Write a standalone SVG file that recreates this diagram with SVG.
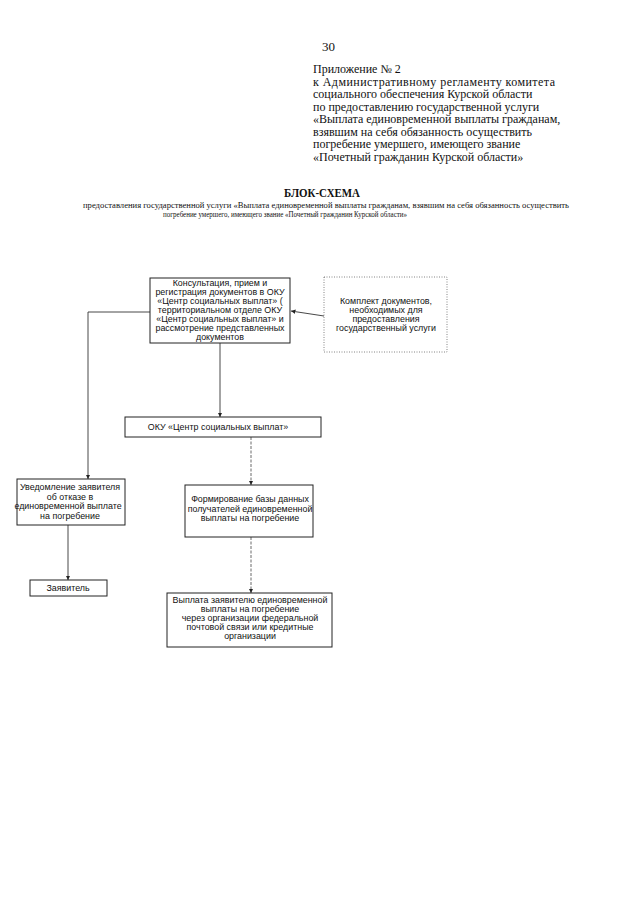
<svg xmlns="http://www.w3.org/2000/svg" width="640" height="905" viewBox="0 0 640 905">
<defs>
<style>
.serif{font-family:"Liberation Serif","Times New Roman",serif;fill:#111}
.hdr{font-size:12px}
.box{fill:#fff;stroke:#222;stroke-width:1}
.dot{fill:#fff;stroke:#666;stroke-width:0.8;stroke-dasharray:1 1.5}
.t{font-family:"Liberation Sans",Arial,sans-serif;font-size:8.9px;fill:#111;text-anchor:middle}
.ln{fill:none;stroke:#333;stroke-width:0.9}
.dl{fill:none;stroke:#444;stroke-width:0.8;stroke-dasharray:3 1.5}
</style>
<marker id="ah" viewBox="0 0 6 6" refX="6" refY="3" markerWidth="4.5" markerHeight="4.5" orient="auto" markerUnits="userSpaceOnUse">
<path d="M0,0 L6,3 L0,6 z" fill="#222"/>
</marker>
</defs>
<rect width="640" height="905" fill="#fff"/>

<g id="header" class="serif hdr">
<text x="322" y="51" font-size="13">30</text>
<text x="313" y="73">Приложение № 2</text>
<text x="313" y="85.5" textLength="242" lengthAdjust="spacing">к  Административному  регламенту  комитета</text>
<text x="313" y="98">социального обеспечения Курской области</text>
<text x="313" y="110.5">по предоставлению государственной услуги</text>
<text x="313" y="123">«Выплата единовременной выплаты гражданам,</text>
<text x="313" y="135.5">взявшим на себя обязанность осуществить</text>
<text x="313" y="148">погребение умершего, имеющего звание</text>
<text x="313" y="160.5">«Почетный гражданин Курской области»</text>
</g>

<g id="title" class="serif">
<text x="284" y="197" font-size="12.5" font-weight="bold" textLength="76" lengthAdjust="spacingAndGlyphs">БЛОК-СХЕМА</text>
<text x="83" y="208" font-size="8" textLength="486" lengthAdjust="spacingAndGlyphs">предоставления государственной услуги  «Выплата единовременной выплаты гражданам, взявшим на себя обязанность осуществить</text>
<text x="163" y="217" font-size="8" textLength="244" lengthAdjust="spacingAndGlyphs">погребение умершего, имеющего звание «Почетный гражданин Курской области»</text>
</g>

<g id="connectors">
<polyline class="ln" points="150,312 88,312 88,479" marker-end="url(#ah)"/>
<line class="ln" x1="220" y1="343" x2="220" y2="417" marker-end="url(#ah)"/>
<line class="ln" x1="324" y1="316" x2="291" y2="311" marker-end="url(#ah)"/>
<line class="dl" x1="251" y1="437" x2="251" y2="485" marker-end="url(#ah)"/>
<line class="dl" x1="251" y1="537" x2="251" y2="593" marker-end="url(#ah)"/>
<line class="ln" x1="68" y1="525" x2="68" y2="580" marker-end="url(#ah)"/>
</g>

<g id="n-consult">
<rect class="box" x="150" y="278" width="140" height="65"/>
<text class="t" x="220" y="285.5">Консультация, прием и</text>
<text class="t" x="220" y="294.5">регистрация документов в ОКУ</text>
<text class="t" x="220" y="303.5">«Центр социальных выплат» (</text>
<text class="t" x="220" y="312.5">территориальном отделе ОКУ</text>
<text class="t" x="220" y="321.5">«Центр социальных выплат» и</text>
<text class="t" x="220" y="330.5">рассмотрение представленных</text>
<text class="t" x="220" y="339.5">документов</text>
</g>

<g id="n-docs">
<rect class="dot" x="324" y="277" width="123" height="75"/>
<text class="t" x="386" y="304">Комплект документов,</text>
<text class="t" x="386" y="313">необходимых для</text>
<text class="t" x="386" y="322">предоставления</text>
<text class="t" x="386" y="331">государственный услуги</text>
</g>

<g id="n-oku">
<rect class="box" x="125" y="417" width="196" height="20"/>
<text class="t" x="218" y="430">ОКУ «Центр социальных выплат»</text>
</g>

<g id="n-form">
<rect class="box" x="185" y="485" width="128" height="52"/>
<text class="t" x="250" y="502">Формирование базы данных</text>
<text class="t" x="250" y="511.5">получателей единовременной</text>
<text class="t" x="250" y="521">выплаты на погребение</text>
</g>

<g id="n-pay">
<rect class="box" x="167" y="593" width="165" height="54"/>
<text class="t" x="250" y="603">Выплата заявителю единовременной</text>
<text class="t" x="250" y="612">выплаты на погребение</text>
<text class="t" x="250" y="621">через организации федеральной</text>
<text class="t" x="250" y="630">почтовой связи или кредитные</text>
<text class="t" x="250" y="639">организации</text>
</g>

<g id="n-notice">
<rect class="box" x="17" y="479" width="108" height="46"/>
<text class="t" x="70" y="490">Уведомление заявителя</text>
<text class="t" x="70" y="499.5">об отказе в</text>
<text class="t" x="68" y="509">единовременной выплате</text>
<text class="t" x="70" y="518.5">на погребение</text>
</g>

<g id="n-applicant">
<rect class="box" x="30" y="580" width="77" height="16"/>
<text class="t" x="68" y="591">Заявитель</text>
</g>
</svg>
